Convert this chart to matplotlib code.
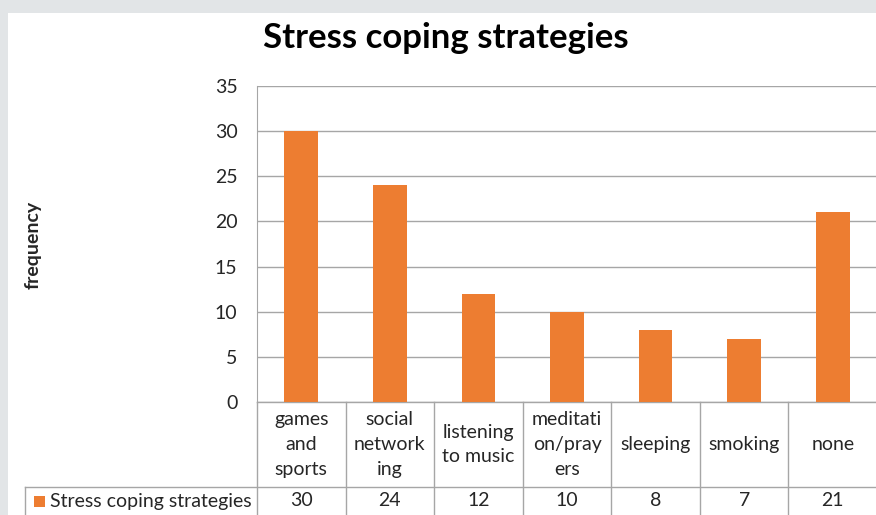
"""Stress coping strategies: Excel-style column chart with a data table."""
import matplotlib
matplotlib.use("Agg")
import matplotlib.pyplot as plt
import matplotlib.transforms as mtransforms
from matplotlib.patches import Rectangle
from matplotlib.lines import Line2D

plt.rcParams["font.family"] = ["Lato", "DejaVu Sans"]

# data
series_name = "Stress coping strategies"
categories = ["games\nand\nsports", "social\nnetwork\ning", "listening\nto music",
              "meditati\non/pray\ners", "sleeping", "smoking", "none"]
values = [30, 24, 12, 10, 8, 7, 21]
y_ticks = [0, 5, 10, 15, 20, 25, 30, 35]

BAR = "#ED7D31"
GRID = "#a6a6a6"
TXT = "#262626"
FS = 14

W, H = 876, 515
fig = plt.figure(figsize=(W / 100, H / 100), dpi=100)
fig.patch.set_facecolor("#e2e5e7")
# white chart panel
fig.patches.append(Rectangle((8 / W, 0), 1, 1 - 13 / H, transform=fig.transFigure,
                             facecolor="white", edgecolor="none", zorder=-5))

ax_l, ax_t, ax_b, ax_r = 257, 86, 402, 877
ax = fig.add_axes([ax_l / W, 1 - ax_b / H, (ax_r - ax_l) / W, (ax_b - ax_t) / H])
ax.set_facecolor("none")

x = list(range(len(categories)))
ax.bar(x, values, width=0.38, color=BAR, zorder=3)
ax.set_xlim(-0.5, len(categories) - 0.5)
ax.set_ylim(0, 35)
ax.set_yticks(y_ticks)
ax.set_yticklabels([str(t) for t in y_ticks], fontsize=FS, color=TXT)
ax.tick_params(axis="y", length=0, pad=14)
ax.tick_params(axis="x", length=0, labelbottom=False)
ax.yaxis.grid(True, color=GRID, linewidth=1)
ax.set_axisbelow(True)
for s in ["top", "right", "bottom"]:
    ax.spines[s].set_visible(False)
ax.spines["left"].set_color(GRID)

fig.text(446 / W, 1 - 38 / H, "Stress coping strategies", ha="center", va="center",
         fontsize=25, fontweight="bold", color="black")
fig.text(33 / W, 1 - 245 / H, "frequency", rotation=90, ha="center", va="center",
         fontsize=FS, fontweight="bold", color=TXT)

# data table below the axis
trans = mtransforms.blended_transform_factory(ax.transData, ax.transAxes)
ax_h = ax_b - ax_t
row_y = -(487 - ax_b) / ax_h
bot_y = -0.5
for i in range(len(categories) + 1):
    ax.add_line(Line2D([i - 0.5, i - 0.5], [0, bot_y], transform=trans,
                       color=GRID, linewidth=1, clip_on=False))
ax.add_line(Line2D([i - 0.5 for i in (0, len(categories))], [0, 0], transform=trans,
                   color=GRID, linewidth=1, clip_on=False))
fig.add_artist(Line2D([25 / W, 1], [1 - 487 / H, 1 - 487 / H], transform=fig.transFigure,
                      color=GRID, linewidth=1))
fig.add_artist(Line2D([25 / W, 25 / W], [1 - 487 / H, 0], transform=fig.transFigure,
                      color=GRID, linewidth=1))

for xi, lab, v in zip(x, categories, values):
    ax.text(xi, (row_y) / 2, lab, transform=trans, ha="center", va="center",
            fontsize=FS, color=TXT, linespacing=1.55)
    ax.text(xi, -(501 - ax_b) / ax_h, str(v), transform=trans, ha="center",
            va="center", fontsize=FS, color=TXT)

fig.patches.append(Rectangle((34 / W, 1 - 507 / H), 11 / W, 11 / H,
                             transform=fig.transFigure, facecolor=BAR, edgecolor="none"))
fig.text(50 / W, 1 - 501 / H, series_name, ha="left", va="center",
         fontsize=FS, color=TXT)

fig.savefig("out.png", dpi=100, facecolor=fig.get_facecolor())
